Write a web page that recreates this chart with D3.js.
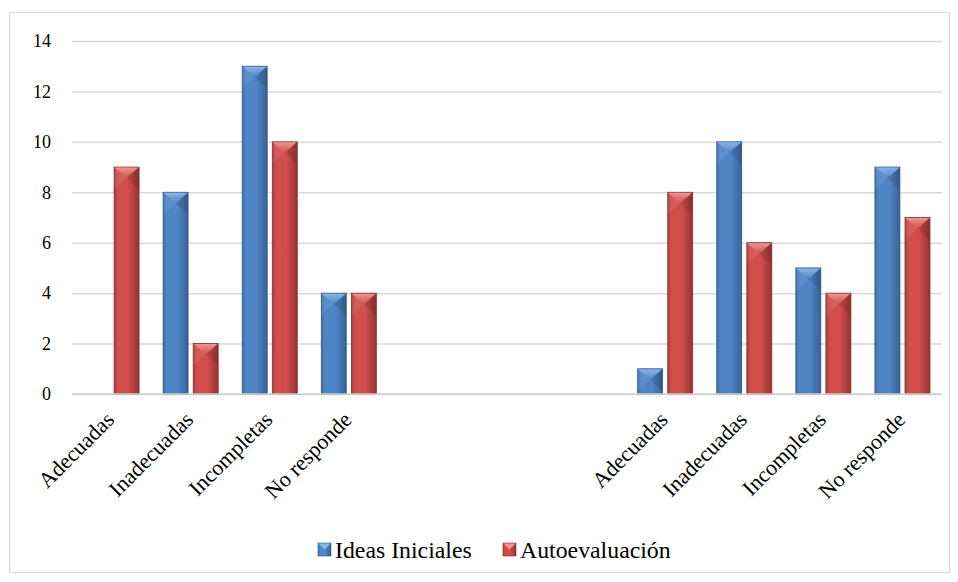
<!DOCTYPE html>
<html>
<head>
<meta charset="utf-8">
<script src="https://cdn.jsdelivr.net/npm/d3@7"></script>
</head>
<body style="margin:0">
<svg id="chart" width="958" height="582"></svg>
<script>
// Category slots along the x axis: two blocks of four, three empty slots between them
const categories = ["Adecuadas", "Inadecuadas", "Incompletas", "No responde",
                    "", "", "",
                    "Adecuadas", "Inadecuadas", "Incompletas", "No responde"];
const seriesNames = ["Ideas Iniciales", "Autoevaluación"];
const ideasIniciales = [0, 8, 13, 4, null, null, null, 1, 10, 5, 9];
const autoevaluacion = [9, 2, 10, 4, null, null, null, 8, 6, 4, 7];
const yTicks = [0, 2, 4, 6, 8, 10, 12, 14];

const SERIF = "Liberation Serif";
const svg = d3.select("#chart");
const plot = { left: 72, right: 942, top: 41, bottom: 394 };

// outer frame
svg.append("rect")
  .attr("x", 9.5).attr("y", 12.5).attr("width", 940).attr("height", 560)
  .attr("fill", "#fff").attr("stroke", "#D9D9D9").attr("stroke-width", 1);

const slots = categories.map((c, i) => i);
const x0 = d3.scaleBand().domain(slots).range([plot.left, plot.right]).padding(0);
const x1 = d3.scaleBand().domain(seriesNames)
  .range([x0.bandwidth() * 0.152, x0.bandwidth() * 0.848]).paddingInner(0.17);
const y = d3.scaleLinear().domain([0, 14]).range([plot.bottom, plot.top]);

// gradients for the bevelled bars
const defs = svg.append("defs");
const palettes = {
  "Ideas Iniciales": { edgeL: "#3F6FA8", mid: "#4F86C6", edgeR: "#36609A", top: "#8DB6E6", stroke: "#2F5587" },
  "Autoevaluación":  { edgeL: "#A93D3B", mid: "#D24E4B", edgeR: "#99322F", top: "#EC9B98", stroke: "#8A2D2B" }
};
seriesNames.forEach((s, i) => {
  const p = palettes[s];
  const g = defs.append("linearGradient").attr("id", "grad" + i)
    .attr("x1", "0").attr("x2", "1").attr("y1", "0").attr("y2", "0");
  g.append("stop").attr("offset", "0").attr("stop-color", p.edgeL);
  g.append("stop").attr("offset", "0.15").attr("stop-color", p.mid);
  g.append("stop").attr("offset", "0.55").attr("stop-color", p.mid);
  g.append("stop").attr("offset", "0.85").attr("stop-color", p.edgeL);
  g.append("stop").attr("offset", "1").attr("stop-color", p.edgeR);
  const t = defs.append("linearGradient").attr("id", "top" + i)
    .attr("x1", "0").attr("x2", "0").attr("y1", "0").attr("y2", "1");
  t.append("stop").attr("offset", "0").attr("stop-color", p.top);
  t.append("stop").attr("offset", "1").attr("stop-color", p.mid);
});

// gridlines and value ticks
const yAxis = d3.axisLeft(y).tickValues(yTicks).tickSize(-(plot.right - plot.left)).tickPadding(21);
const gy = svg.append("g").attr("transform", `translate(${plot.left},0)`).call(yAxis);
gy.select(".domain").remove();
gy.selectAll(".tick line").attr("stroke", "#D9D9D9").attr("stroke-width", 1.5);
gy.selectAll(".tick text")
  .attr("fill", "#000")
  .attr("font-family", SERIF)
  .attr("font-size", 18);

// bars
const rows = categories.map((c, i) => ({ i, values: [ideasIniciales[i], autoevaluacion[i]] }));
const groups = svg.append("g").selectAll("g").data(rows).join("g")
  .attr("transform", d => `translate(${x0(d.i)},0)`);

groups.each(function(d) {
  const g = d3.select(this);
  d.values.forEach((v, si) => {
    if (v == null || v === 0) return;
    const s = seriesNames[si];
    const p = palettes[s];
    const bx = x1(s), bw = x1.bandwidth();
    const by = y(v), bh = y(0) - y(v);
    const bev = Math.min(bw / 2, 11);
    g.append("rect").attr("x", bx).attr("y", by).attr("width", bw).attr("height", bh)
      .attr("fill", `url(#grad${si})`).attr("stroke", p.stroke).attr("stroke-width", 0.8);
    // top bevel facet
    g.append("path")
      .attr("d", `M${bx + 0.5},${by + 0.5} L${bx + bw - 0.5},${by + 0.5} L${bx + bw / 2},${by + Math.min(bev, bh)} Z`)
      .attr("fill", `url(#top${si})`).attr("opacity", 0.95);
    // side facets
    g.append("path")
      .attr("d", `M${bx + 0.5},${by + 0.5} L${bx + bw / 2},${by + Math.min(bev, bh)} L${bx + 0.5},${by + Math.min(bh, bev * 2)} Z`)
      .attr("fill", "#fff").attr("opacity", 0.08);
    g.append("path")
      .attr("d", `M${bx + bw - 0.5},${by + 0.5} L${bx + bw / 2},${by + Math.min(bev, bh)} L${bx + bw - 0.5},${by + Math.min(bh, bev * 2)} Z`)
      .attr("fill", "#000").attr("opacity", 0.1);
  });
});

// x axis line
svg.append("line")
  .attr("x1", plot.left).attr("x2", plot.right)
  .attr("y1", y(0)).attr("y2", y(0))
  .attr("stroke", "#D0D0D0").attr("stroke-width", 1.5);

// category labels, rotated
svg.append("g")
  .selectAll("text").data(rows.filter(d => categories[d.i] !== "")).join("text")
  .attr("transform", d => `translate(${x0(d.i) + x0.bandwidth() / 2 + 4},${plot.bottom + 27}) rotate(-45)`)
  .attr("text-anchor", "end")
  .attr("fill", "#000")
  .attr("font-family", SERIF)
  .attr("font-size", 22)
  .text(d => categories[d.i]);

// legend
const legend = svg.append("g");
const legendItems = [
  { name: seriesNames[0], x: 318, idx: 0 },
  { name: seriesNames[1], x: 503, idx: 1 }
];
legendItems.forEach(it => {
  const p = palettes[it.name];
  legend.append("rect").attr("x", it.x).attr("y", 543).attr("width", 13).attr("height", 13)
    .attr("fill", `url(#grad${it.idx})`).attr("stroke", p.stroke).attr("stroke-width", 0.6);
  legend.append("path").attr("d", `M${it.x + 0.5},${543.5} L${it.x + 12.5},${543.5} L${it.x + 6.5},${549.5} Z`)
    .attr("fill", p.top);
  legend.append("text").attr("x", it.x + 17).attr("y", 558)
    .attr("fill", "#000")
    .attr("font-family", SERIF)
    .attr("font-size", 23.8)
    .text(it.name);
});
</script>
</body>
</html>
